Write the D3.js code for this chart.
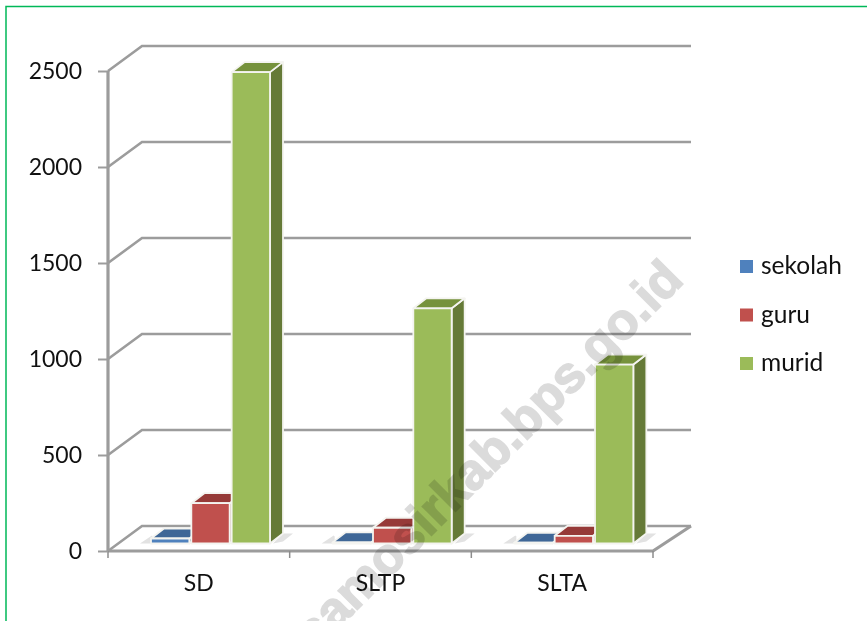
<!DOCTYPE html>
<html>
<head>
<meta charset="utf-8">
<script src="https://cdn.jsdelivr.net/npm/d3@7"></script>
<style>
html, body { margin: 0; padding: 0; background: #fff; overflow: hidden; }
svg { display: block; filter: blur(0.45px); }
</style>
</head>
<body>
<svg width="867" height="621"></svg>
<script>
// values
var categories = ["SD", "SLTP", "SLTA"];
var series = ["sekolah", "guru", "murid"];
var sekolah = [26, 6, 4];
var guru = [210, 82, 40];
var murid = [2455, 1225, 932];
var y_ticks = [0, 500, 1000, 1500, 2000, 2500];

var colors = {
    sekolah: { front: "#4f81bd", top: "#3f6797", side: "#385d8a" },
    guru: { front: "#c0504d", top: "#963a38", side: "#8a3836" },
    murid: { front: "#9bbb59", top: "#76923c", side: "#657a37" }
};
var grid_color = "#9c9c9c";
var font = "Lato, 'Open Sans', sans-serif";

const svg = d3.select("svg");

// 3d wall depth and where the bars stand on the floor
const wall_dx = 34, wall_dy = 25;
const bar_dx = 13, bar_dy = 10;
const bar_lift = 7.5;
const bar_start = 42, bar_group = 121;

var y = d3.scaleLinear().domain([0, 2500]).range([551, 71]);
var x = d3.scaleBand().domain(categories).range([108, 653]);
var x_series = d3.scaleBand().domain(series).range([bar_start, bar_start + bar_group]);

function poly(points) {
    return points.map(p => p.join(",")).join(" ");
}

// frame around the picture
svg.append("path")
    .attr("d", "M6,621V6.5H867")
    .attr("fill", "none")
    .attr("stroke", "#00b858")
    .attr("stroke-width", 1.5);

// walls and floor
const walls = svg.append("g")
    .attr("fill", "none")
    .attr("stroke", grid_color)
    .attr("stroke-width", 2.6);

walls.selectAll("polyline.grid")
    .data(y_ticks)
    .join("polyline")
    .attr("class", "grid")
    .attr("points", d => poly([
        [x.range()[0], y(d)],
        [x.range()[0] + wall_dx, y(d) - wall_dy],
        [x.range()[1] + wall_dx + 4, y(d) - wall_dy]
    ]));

walls.append("polyline")
    .attr("points", poly([
        [x.range()[0], y(0)],
        [x.range()[1], y(0)],
        [x.range()[1] + wall_dx + 4, y(0) - wall_dy]
    ]))
    .attr("stroke-width", 3.2);

walls.append("line")
    .attr("x1", x.range()[0]).attr("x2", x.range()[0])
    .attr("y1", y(2500)).attr("y2", y(0))
    .attr("stroke-width", 3.2);

// bottom ticks sit between the categories
svg.append("g")
    .attr("stroke", "#8c8c8c")
    .attr("stroke-width", 1.5)
    .selectAll("line")
    .data(categories.concat("end"))
    .join("line")
    .attr("x1", (d, i) => x.range()[0] + i * x.bandwidth())
    .attr("x2", (d, i) => x.range()[0] + i * x.bandwidth())
    .attr("y1", y(0))
    .attr("y2", y(0) + 7);

// axes
const y_axis = svg.append("g")
    .attr("transform", "translate(108,0)")
    .call(d3.axisLeft(y).tickValues(y_ticks).tickSize(10).tickPadding(16).tickFormat(d3.format("d")));
y_axis.select(".domain").remove();
y_axis.selectAll("line").attr("stroke", grid_color).attr("stroke-width", 2);
y_axis.attr("font-family", font).attr("font-size", 23);
y_axis.selectAll("text").attr("fill", "#111");

const x_axis = svg.append("g")
    .attr("transform", "translate(0,575)")
    .call(d3.axisBottom(x).tickSize(0).tickPadding(0));
x_axis.select(".domain").remove();
x_axis.attr("font-family", font).attr("font-size", 23);
x_axis.selectAll("text").attr("fill", "#111");

// bars
var base = y(0) - bar_lift;
var rows = [];
categories.forEach(function(c, i) {
    rows.push({ cat: c, key: "sekolah", value: sekolah[i] });
    rows.push({ cat: c, key: "guru", value: guru[i] });
    rows.push({ cat: c, key: "murid", value: murid[i] });
});

// floor shadows, left of the first bar and right of the last
const shadows = svg.append("g").attr("fill", "#e2e2e2");
categories.forEach(function(c) {
    var left = x(c) + x_series("sekolah");
    var right = x(c) + x_series("murid") + x_series.bandwidth();
    shadows.append("polygon").attr("points", poly([
        [left - 10, base], [left + 3, base], [left + 3, base - 7], [left + 2, base - 8]
    ]));
    shadows.append("polygon").attr("points", poly([
        [right + 2, base], [right + 12, base - 2], [right + 22, base - 10], [right + 12, base - 10]
    ]));
});

const bar = svg.append("g")
    .attr("stroke", "#f4f4f0")
    .attr("stroke-width", 1.8)
    .attr("stroke-linejoin", "round")
    .selectAll("g")
    .data(rows)
    .join("g");

function bar_left(d) { return x(d.cat) + x_series(d.key) + 1; }
function bar_right(d) { return bar_left(d) + x_series.bandwidth() - 2; }
function bar_top(d) { return base - (y(0) - y(d.value)); }

bar.append("polygon")
    .attr("fill", d => colors[d.key].side)
    .attr("points", d => poly([
        [bar_right(d), base],
        [bar_right(d) + bar_dx, base - bar_dy],
        [bar_right(d) + bar_dx, bar_top(d) - bar_dy],
        [bar_right(d), bar_top(d)]
    ]));

bar.append("polygon")
    .attr("fill", d => colors[d.key].top)
    .attr("points", d => poly([
        [bar_left(d), bar_top(d)],
        [bar_right(d), bar_top(d)],
        [bar_right(d) + bar_dx, bar_top(d) - bar_dy],
        [bar_left(d) + bar_dx, bar_top(d) - bar_dy]
    ]));

bar.append("rect")
    .attr("fill", d => colors[d.key].front)
    .attr("x", bar_left)
    .attr("y", bar_top)
    .attr("width", d => bar_right(d) - bar_left(d))
    .attr("height", d => base - bar_top(d));

// legend
const legend_y = d3.scalePoint().domain(series).range([267, 364]);
const legend = svg.append("g")
    .selectAll("g")
    .data(series)
    .join("g")
    .attr("transform", d => `translate(740,${legend_y(d)})`);

legend.append("rect")
    .attr("y", -7)
    .attr("width", 13)
    .attr("height", 13)
    .attr("fill", d => colors[d].front);

legend.append("text")
    .attr("x", 21)
    .attr("y", 7)
    .attr("font-family", font)
    .attr("font-size", 24.5)
    .attr("fill", "#111")
    .text(d => d);

// watermark
svg.append("text")
    .attr("transform", "translate(500,467) rotate(-45)")
    .attr("text-anchor", "middle")
    .attr("font-family", "'Liberation Sans', sans-serif")
    .attr("font-weight", "bold")
    .attr("font-size", 51)
    .attr("fill", "#000")
    .attr("stroke", "#000")
    .attr("stroke-width", 1.6)
    .attr("opacity", 0.14)
    .text("samosirkab.bps.go.id");
</script>
</body>
</html>
